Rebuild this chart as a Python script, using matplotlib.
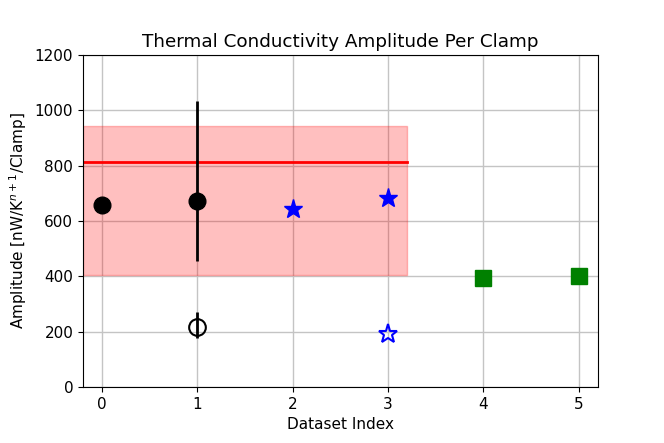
import matplotlib
matplotlib.use("Agg")
import matplotlib.pyplot as plt
import numpy as np

# clamp amplitudes
circ_x = [0, 1]
circ_y = [657, 672]
circ_err_lo = [0, 215]
circ_err_hi = [0, 360]

open_circ_x = [1]
open_circ_y = [218]
open_circ_err_lo = [40]
open_circ_err_hi = [55]

star_x = [2, 3]
star_y = [645, 683]
open_star_x = [3]
open_star_y = [192]

sq_x = [4, 5]
sq_y = [394, 401]

mean_val = 812
band_lo = 405
band_hi = 945
band_x = [-0.2, 3.2]

plt.rcParams["font.size"] = 11

fig = plt.figure(figsize=(6.64, 4.43), dpi=100)
ax = fig.add_axes([0.125, 0.126, 0.775, 0.75])

ax.fill_between(band_x, band_lo, band_hi, color="red", alpha=0.25, zorder=1)
ax.plot(band_x, [mean_val, mean_val], color="red", lw=2, zorder=2)

ax.errorbar(circ_x, circ_y, yerr=[circ_err_lo, circ_err_hi], fmt="o", color="black",
            ms=12, elinewidth=2, zorder=3)
ax.errorbar(open_circ_x, open_circ_y, yerr=[open_circ_err_lo, open_circ_err_hi], fmt="o",
            color="black", mfc="none", ms=12, elinewidth=2, mew=1.5, zorder=3)
ax.plot(star_x, star_y, "*", color="blue", ms=14, zorder=3)
ax.plot(open_star_x, open_star_y, "*", color="blue", mfc="none", ms=14, mew=1.5, zorder=3)
ax.plot(sq_x, sq_y, "s", color="green", ms=11, zorder=3)

ax.set_xlim(-0.2, 5.2)
ax.set_ylim(0, 1200)
ax.set_xticks([0, 1, 2, 3, 4, 5])
ax.grid(True, color="#c4c4c4", lw=1.0, zorder=0)
ax.set_axisbelow(True)
ax.set_xlabel("Dataset Index")
ax.set_ylabel("Amplitude [nW/K$^{n+1}$/Clamp]")
ax.set_title("Thermal Conductivity Amplitude Per Clamp", fontsize=13.2)

fig.savefig("out.png")
